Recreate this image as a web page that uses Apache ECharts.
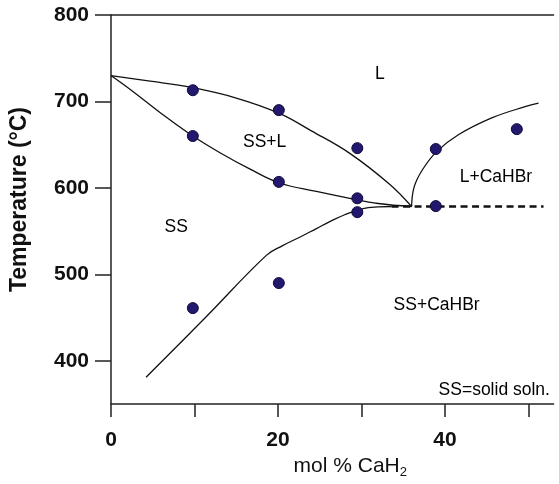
<!DOCTYPE html>
<html>
<head>
<meta charset="utf-8">
<script src="https://cdn.jsdelivr.net/npm/echarts@6/dist/echarts.min.js"></script>
<style>
html,body{margin:0;padding:0;background:#fff;}
#chart{width:559px;height:484px;}
</style>
</head>
<body>
<div id="chart"></div>
<script>
// ---- data (mol % CaH2, temperature °C) ----
const xTicks = [0, 10, 20, 30, 40, 50];
const xTickLabels = [0, 20, 40];
const yTicks = [400, 500, 600, 700, 800];

const measuredX = [9.8, 9.8, 9.8, 20.1, 20.1, 20.1, 29.5, 29.5, 29.5, 38.9, 38.9, 48.6];
const measuredT = [713, 660, 461, 690, 607, 490, 646, 588, 572, 645, 579, 668];

const liquidusLeftX = [0, 4.7, 9.5, 15, 20.1, 24, 28.6, 33.4, 36];
const liquidusLeftT = [730, 723.5, 716.5, 704, 686.5, 666, 640, 604, 578.5];

const solidusX = [0, 2.7, 5.9, 9.8, 13, 16.6, 20.1, 24.6, 28.6, 32, 36];
const solidusT = [730, 711, 687, 660, 641, 622, 606, 596, 588, 582, 578.5];

const solvusX = [4.2, 11.4, 18.6, 20.5, 22.6, 24.6, 26.2, 28, 30.2, 32, 33.6];
const solvusT = [381, 451, 522, 533, 543, 553, 561, 569, 576, 578, 578.5];

const liquidusRightX = [36, 36.3, 37.3, 39, 41.6, 45.6, 49.6, 51.2];
const liquidusRightT = [578.5, 601, 621, 642, 661.5, 681, 694, 698];

const eutecticX = [33.6, 51.8];
const eutecticT = [578.5, 578.5];

const regionNames = ['L', 'SS+L', 'SS', 'L+CaHBr', 'SS+CaHBr', 'SS=solid soln.'];
const regionX = [32.2, 18.4, 7.8, 46.1, 39.0, 45.9];
const regionT = [731, 652.5, 555, 612, 464, 365.6];

const zip = (xs, ys) => xs.map((x, i) => [x, ys[i]]);

const chart = echarts.init(document.getElementById('chart'), null, {renderer: 'canvas'});
const FONT = 'Liberation Sans, Arial, sans-serif';
const lineStyle = {color: '#111', width: 1.3};

const curve = (xs, ys) => ({
  type: 'line',
  data: zip(xs, ys),
  showSymbol: false,
  symbol: 'none',
  smooth: 0.4,
  lineStyle: lineStyle,
  silent: true,
  z: 2
});

chart.setOption({
  animation: false,
  backgroundColor: '#fff',
  grid: {left: 111, right: 5.45, top: 15, bottom: 78},
  xAxis: [{
    type: 'value',
    min: 0, max: 53,
    position: 'bottom',
    axisLine: {show: true, lineStyle: {color: '#222', width: 1.5}},
    axisTick: {show: true, length: 13, inside: false, customValues: xTicks, lineStyle: {color: '#222', width: 1.5}},
    axisLabel: {
      show: true, customValues: xTickLabels, margin: 26,
      fontFamily: FONT, fontSize: 21, fontWeight: 'bold', color: '#111'
    },
    splitLine: {show: false},
    name: '{a|mol % CaH}{s|2}',
    nameLocation: 'middle',
    nameGap: 48,
    nameTextStyle: {
      padding: [0, 0, 0, 36],
      rich: {
        a: {fontFamily: FONT, fontSize: 21, color: '#111'},
        s: {fontFamily: FONT, fontSize: 13, color: '#111', padding: [12, 0, 0, 0]}
      }
    }
  }, {
    type: 'value',
    min: 0, max: 53,
    position: 'top',
    axisLine: {show: true, lineStyle: {color: '#222', width: 1.5}},
    axisTick: {show: false},
    axisLabel: {show: false},
    splitLine: {show: false}
  }],
  yAxis: {
    type: 'value',
    min: 350, max: 800,
    axisLine: {show: true, lineStyle: {color: '#222', width: 1.5}},
    axisTick: {show: true, length: 16, inside: false, customValues: yTicks, lineStyle: {color: '#222', width: 1.5}},
    axisLabel: {
      show: true, customValues: yTicks, margin: 22,
      fontFamily: FONT, fontSize: 21, fontWeight: 'bold', color: '#111'
    },
    splitLine: {show: false},
    name: 'Temperature (°C)',
    nameLocation: 'middle',
    nameRotate: 90,
    nameGap: 80,
    nameTextStyle: {fontFamily: FONT, fontSize: 23, fontWeight: 'bold', color: '#111', padding: [0, 0, 0, 20]}
  },
  series: [
    curve(liquidusLeftX, liquidusLeftT),
    curve(solidusX, solidusT),
    curve(solvusX, solvusT),
    curve(liquidusRightX, liquidusRightT),
    {
      type: 'line',
      data: zip(eutecticX, eutecticT),
      symbol: 'none',
      lineStyle: {color: '#111', width: 2.4, type: [7, 4.5]},
      silent: true,
      z: 2
    },
    {
      type: 'scatter',
      data: zip(measuredX, measuredT),
      symbol: 'circle',
      symbolSize: 11,
      itemStyle: {color: '#22186e', borderColor: '#0e0a3a', borderWidth: 1, opacity: 1},
      z: 5
    },
    {
      type: 'scatter',
      data: regionNames.map((n, i) => ({name: n, value: [regionX[i], regionT[i]]})),
      symbolSize: 0,
      silent: true,
      itemStyle: {opacity: 1},
      label: {
        show: true,
        position: 'inside',
        formatter: p => p.name,
        fontFamily: FONT,
        fontSize: 17.5,
        color: '#000',
        opacity: 1
      },
      z: 6
    }
  ]
});
</script>
</body>
</html>
